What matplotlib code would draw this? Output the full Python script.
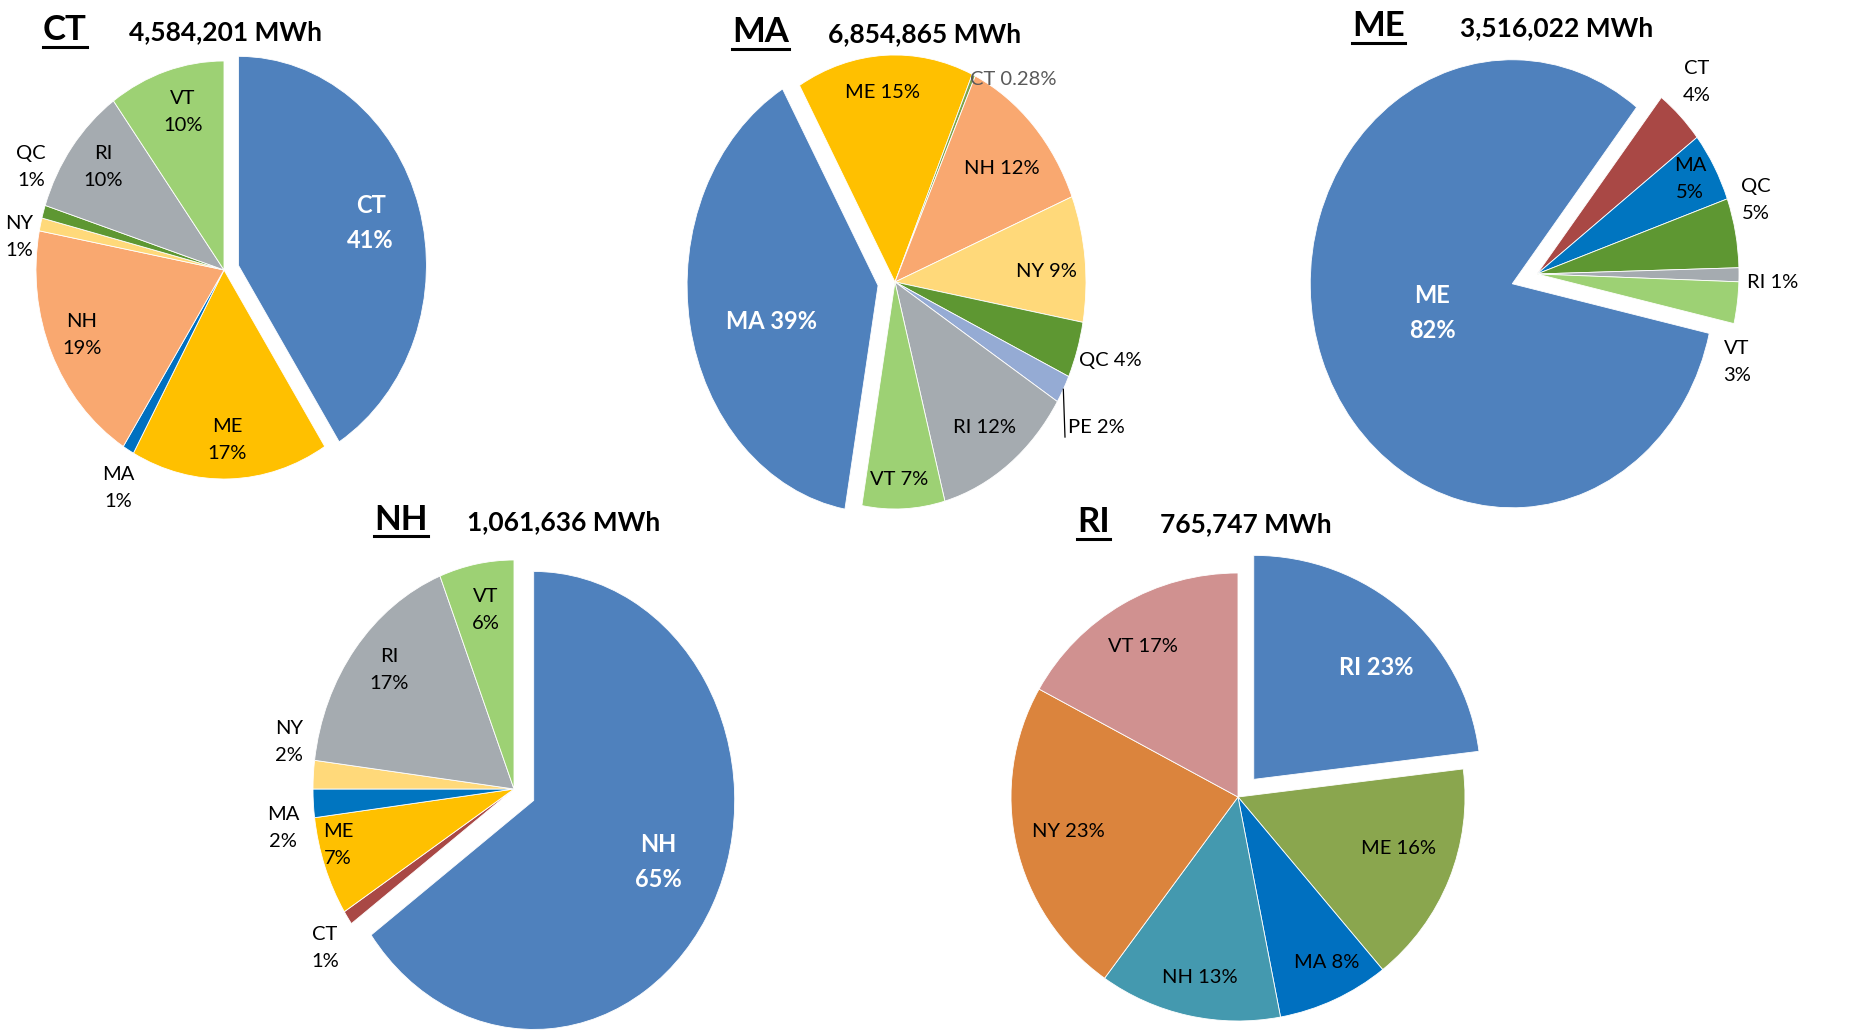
import numpy as np
import matplotlib.pyplot as plt

plt.rcParams['font.family'] = ['Lato', 'DejaVu Sans']

W, H = 1860, 1030

# ---- data: share of each state's supply (percent), clockwise order ----
ct_states = ['CT', 'ME', 'MA', 'NH', 'NY', 'QC', 'RI', 'VT']
ct_share = [41, 17, 1, 19, 1, 1, 10, 10]
ct_total = '4,584,201 MWh'

ma_states = ['ME', 'CT', 'NH', 'NY', 'QC', 'PE', 'RI', 'VT', 'MA']
ma_share = [15, 0.28, 12, 9, 4, 2, 12, 7, 39]
ma_total = '6,854,865 MWh'

me_states = ['CT', 'MA', 'QC', 'RI', 'VT', 'ME']
me_share = [4, 5, 5, 1, 3, 82]
me_total = '3,516,022 MWh'

nh_states = ['NH', 'CT', 'ME', 'MA', 'NY', 'RI', 'VT']
nh_share = [65, 1, 7, 2, 2, 17, 6]
nh_total = '1,061,636 MWh'

ri_states = ['RI', 'ME', 'MA', 'NH', 'NY', 'VT']
ri_share = [23, 16, 8, 13, 23, 17]
ri_total = '765,747 MWh'

# ---- colours ----
ct_colors = ['#4F81BD', '#FFC000', '#0070C0', '#F9A870', '#FFD97A', '#5E9732', '#A5ABB0', '#9DD174']
ma_colors = ['#FFC000', '#7BA34B', '#F9A870', '#FFD97A', '#5E9732', '#95ABD4', '#A5ABB0', '#9DD174', '#4F81BD']
me_colors = ['#A94845', '#0075C0', '#5E9732', '#A5ABB0', '#9DD174', '#4F81BD']
nh_colors = ['#4F81BD', '#A94845', '#FFC000', '#0075C0', '#FFD97A', '#A5ABB0', '#9DD174']
ri_colors = ['#4F81BD', '#8AA64E', '#0070C0', '#4499AF', '#DB843D', '#D09190']

# ---- layout: label positions in pie units (radius = 1) ----
ct_lab = [(0.78, 0.225), (0.016, -0.813), (-0.564, -1.043), (-0.755, -0.311),
          (-1.09, 0.158), (-1.027, 0.493), (-0.644, 0.493), (-0.218, 0.756)]
ma_lab = [(-0.068, 0.833), (0.618, 0.894), (0.560, 0.502), (0.791, 0.048),
          (1.126, -0.348), (1.052, -0.643), (0.471, -0.643), (0.021, -0.872), (-0.649, -0.176)]
me_lab = [(0.792, 0.857), (0.757, 0.424), (1.084, 0.330), (1.168, -0.036),
          (0.990, -0.393), (-0.520, -0.174)]
nh_lab = [(0.716, -0.319), (-0.940, -0.694), (-0.876, -0.245), (-1.149, -0.170),
          (-1.119, 0.205), (-0.622, 0.520), (-0.139, 0.782)]
ri_lab = [(0.608, 0.580), (0.705, -0.228), (0.392, -0.741), (-0.167, -0.804),
          (-0.749, -0.152), (-0.419, 0.670)]

fig = plt.figure(figsize=(W / 100, H / 100), dpi=100)
K = 1.3


def draw_pie(home, total, states, share, colors, labpos, cx, cy, rx, ry, start,
             explode, two_line, title_x, value_x, base_y, inline=()):
    ax = fig.add_axes([(cx - K * rx) / W, 1 - (cy + K * ry) / H, 2 * K * rx / W, 2 * K * ry / H])
    ex = [explode if s == home else 0 for s in states]
    wedges, _ = ax.pie(share, colors=colors, startangle=start, counterclock=False,
                       explode=ex, wedgeprops=dict(edgecolor='white', linewidth=0.6))
    ax.set_aspect('auto')
    ax.set_xlim(-K, K)
    ax.set_ylim(-K, K)
    ax.axis('off')
    for s, v, (x, y) in zip(states, share, labpos):
        sep = '\n' if two_line and s not in inline else ' '
        txt = f'{s}{sep}{v:g}%'
        if s == home:
            ax.text(x, y, txt, ha='center', va='center', fontsize=17,
                    fontweight='bold', color='white', linespacing=1.65)
        else:
            col = '#595959' if v < 0.5 else 'black'
            ax.text(x, y, txt, ha='center', va='center', fontsize=14.5,
                    color=col, linespacing=1.7)
    t = fig.text(title_x / W, 1 - base_y / H, home, fontsize=25, fontweight='bold',
                 va='baseline', ha='left')
    fig.text(value_x / W, 1 - base_y / H, total, fontsize=19, fontweight='bold',
             va='baseline', ha='left')
    return ax, wedges, t


titles = []
ax_ct, _, t = draw_pie('CT', ct_total, ct_states, ct_share, ct_colors, ct_lab,
                       224, 270, 188, 209, 90, 0.08, True, 43, 129, 40)
titles.append((t, 47))
ax_ma, w_ma, t = draw_pie('MA', ma_total, ma_states, ma_share, ma_colors, ma_lab,
                          895, 282, 191, 227, 120, 0.09, False, 732, 828, 42)
titles.append((t, 49))
ax_me, _, t = draw_pie('ME', me_total, me_states, me_share, me_colors, me_lab,
                       1537, 274, 202, 224, 52, 0.13, True, 1352, 1460, 36, inline=('RI',))
titles.append((t, 43))
ax_nh, _, t = draw_pie('NH', nh_total, nh_states, nh_share, nh_colors, nh_lab,
                       514, 789, 201, 229, 90, 0.11, True, 374, 467, 530)
titles.append((t, 536))
ax_ri, _, t = draw_pie('RI', ri_total, ri_states, ri_share, ri_colors, ri_lab,
                       1238, 797, 227, 224, 90, 0.105, False, 1077, 1160, 532)
titles.append((t, 539))

# leader line for the PE slice of the MA pie
pe = w_ma[ma_states.index('PE')]
mid = np.deg2rad((pe.theta1 + pe.theta2) / 2)
ax_ma.plot([np.cos(mid), 0.89], [np.sin(mid), -0.683], color='black', lw=0.9, clip_on=False)

# underline the state names
fig.canvas.draw()
r = fig.canvas.get_renderer()
for t, uy in titles:
    bb = t.get_window_extent(r)
    fig.add_artist(plt.Line2D([bb.x0 / W, bb.x1 / W], [1 - uy / H, 1 - uy / H],
                              color='black', lw=2.2))

fig.savefig('out.png', dpi=100, facecolor='white')
